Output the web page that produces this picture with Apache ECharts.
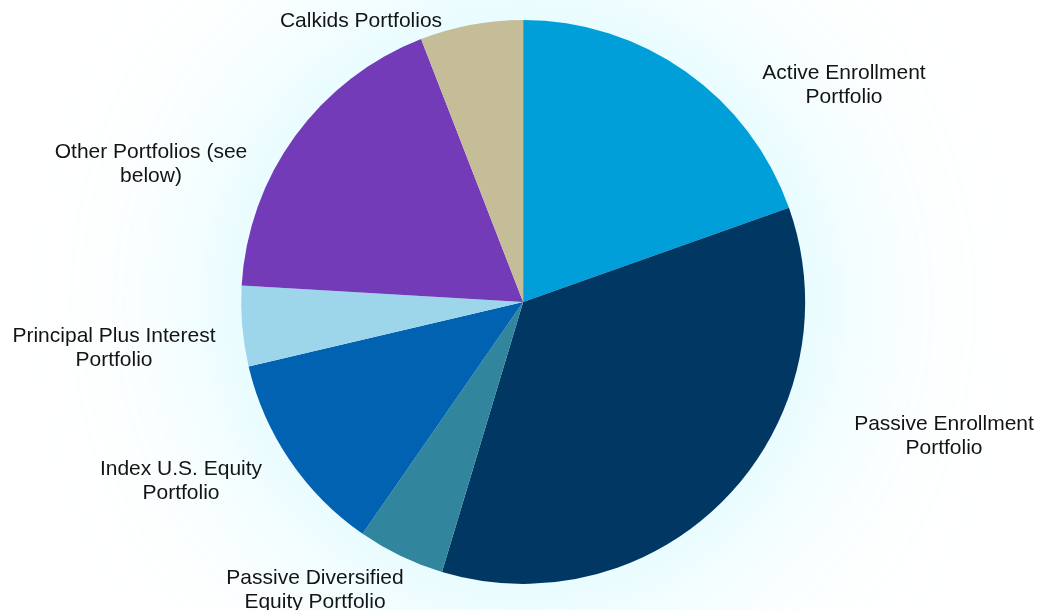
<!DOCTYPE html>
<html>
<head>
<meta charset="utf-8">
<script src="https://cdn.jsdelivr.net/npm/echarts@6/dist/echarts.min.js"></script>
<style>
  html, body { margin: 0; padding: 0; background: #ffffff; }
  #chart { width: 1038px; height: 610px; }
</style>
</head>
<body>
<div id="chart"></div>
<script>
// Portfolio names (clockwise from 12 o'clock) and their share of assets, in percent
const categories = [
  'Active Enrollment\nPortfolio',
  'Passive Enrollment\nPortfolio',
  'Passive Diversified\nEquity Portfolio',
  'Index U.S. Equity\nPortfolio',
  'Principal Plus Interest\nPortfolio',
  'Other Portfolios (see\nbelow)',
  'Calkids Portfolios'
];
const shares = [19.6, 35.1, 5.0, 11.7, 4.6, 18.2, 5.9];

// Slice colours, same order as the categories
const sliceColors = ['#009fda', '#003763', '#31859c', '#0062b0', '#9dd6ea', '#733bb8', '#c4bd97'];

// Where each label's text block is centred on the page
const labelAnchors = [
  [844, 85], [944, 436], [315, 590], [181, 481], [114, 348], [151, 164], [361, 21]
];

const chart = echarts.init(document.getElementById('chart'), null, { renderer: 'canvas' });

const center = ['50.4%', '49.5%'];
const radius = 282;

chart.setOption({
  backgroundColor: '#ffffff',
  animation: false,
  series: [
    {
      // soft cyan halo behind the pie
      type: 'pie',
      silent: true,
      center: center,
      radius: radius - 2,
      label: { show: false },
      labelLine: { show: false },
      itemStyle: {
        color: '#ffffff',
        shadowBlur: 200,
        shadowColor: 'rgba(185, 246, 255, 0.75)'
      },
      data: [{ value: 1, name: 'halo' }]
    },
    {
      type: 'pie',
      center: center,
      radius: radius,
      startAngle: 90,
      clockwise: true,
      avoidLabelOverlap: false,
      itemStyle: { borderWidth: 0 },
      label: {
        show: true,
        position: 'outside',
        color: '#141414',
        fontFamily: 'Liberation Sans, Arial, sans-serif',
        fontSize: 21,
        lineHeight: 24,
        align: 'center',
        formatter: p => p.name
      },
      labelLine: { show: false },
      labelLayout: function (params) {
        const a = labelAnchors[params.dataIndex];
        return { x: a[0], y: a[1], align: 'center', verticalAlign: 'middle' };
      },
      data: categories.map((name, i) => ({
        name: name,
        value: shares[i],
        itemStyle: { color: sliceColors[i] }
      }))
    }
  ]
});
</script>
</body>
</html>
